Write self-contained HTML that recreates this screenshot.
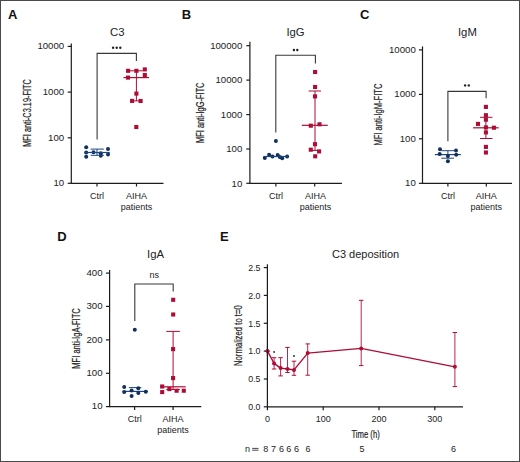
<!DOCTYPE html>
<html><head><meta charset="utf-8"><style>
html,body{margin:0;padding:0;background:#fff;}
body{width:520px;height:462px;overflow:hidden;}
svg{display:block;font-family:"Liberation Sans", sans-serif;}
</style></head><body>
<svg width="520" height="462" viewBox="0 0 520 462">
<rect x="0" y="0" width="520" height="462" fill="#fff"/>
<text x="8" y="19.1" font-size="13" text-anchor="start" font-weight="bold" fill="#111">A</text>
<text x="117.2" y="36" font-size="11.3" text-anchor="middle" font-weight="normal" fill="#222">C3</text>
<text x="30.8" y="112.95" font-size="11" text-anchor="middle" font-weight="normal" fill="#222" textLength="67.7" lengthAdjust="spacingAndGlyphs" transform="rotate(-90 30.8 112.95)" stroke="#222" stroke-width="0.2">MFI anti-C3.19-FITC</text>
<line x1="71.3" y1="43.4" x2="71.3" y2="183.3" stroke="#1c1c1c" stroke-width="1.2"/>
<line x1="67.7" y1="46.4" x2="71.3" y2="46.4" stroke="#1c1c1c" stroke-width="1.2"/>
<text x="64.2" y="49.1" font-size="9" text-anchor="end" font-weight="normal" fill="#222" textLength="26.78" lengthAdjust="spacingAndGlyphs">10000</text>
<line x1="67.7" y1="92.1" x2="71.3" y2="92.1" stroke="#1c1c1c" stroke-width="1.2"/>
<text x="64.2" y="94.8" font-size="9" text-anchor="end" font-weight="normal" fill="#222" textLength="21.42" lengthAdjust="spacingAndGlyphs">1000</text>
<line x1="67.7" y1="137.8" x2="71.3" y2="137.8" stroke="#1c1c1c" stroke-width="1.2"/>
<text x="64.2" y="140.5" font-size="9" text-anchor="end" font-weight="normal" fill="#222" textLength="16.07" lengthAdjust="spacingAndGlyphs">100</text>
<line x1="67.7" y1="183.3" x2="71.3" y2="183.3" stroke="#1c1c1c" stroke-width="1.2"/>
<text x="64.2" y="186.0" font-size="9" text-anchor="end" font-weight="normal" fill="#222" textLength="10.71" lengthAdjust="spacingAndGlyphs">10</text>
<line x1="70.7" y1="183.3" x2="163.5" y2="183.3" stroke="#1c1c1c" stroke-width="1.2"/>
<line x1="97.0" y1="183.3" x2="97.0" y2="186.5" stroke="#1c1c1c" stroke-width="1.2"/>
<line x1="136.5" y1="183.3" x2="136.5" y2="186.5" stroke="#1c1c1c" stroke-width="1.2"/>
<text x="97.1" y="198.5" font-size="9" text-anchor="middle" font-weight="normal" fill="#222">Ctrl</text>
<text x="136.4" y="198.5" font-size="9" text-anchor="middle" font-weight="normal" fill="#222">AIHA</text>
<text x="136.4" y="209.5" font-size="9" text-anchor="middle" font-weight="normal" fill="#222">patients</text>
<path d="M97.1,139.4 V53.4 H136.4 V61.0" fill="none" stroke="#383838" stroke-width="1.1"/>
<circle cx="113.1" cy="47.8" r="1.2" fill="#222"/>
<circle cx="116.7" cy="47.8" r="1.2" fill="#222"/>
<circle cx="120.3" cy="47.8" r="1.2" fill="#222"/>
<circle cx="86.2" cy="147.3" r="2.0" fill="#102f5c"/>
<circle cx="86.2" cy="152.5" r="2.0" fill="#102f5c"/>
<circle cx="86.2" cy="156.7" r="2.0" fill="#102f5c"/>
<circle cx="93.5" cy="152.2" r="2.0" fill="#102f5c"/>
<circle cx="100.8" cy="155.7" r="2.0" fill="#102f5c"/>
<circle cx="100.8" cy="153.2" r="2.0" fill="#102f5c"/>
<circle cx="108" cy="149.1" r="2.0" fill="#102f5c"/>
<circle cx="108" cy="154.6" r="2.0" fill="#102f5c"/>
<line x1="84.5" y1="152.5" x2="109.8" y2="152.5" stroke="#1b4680" stroke-width="1.2"/>
<line x1="90.7" y1="149.1" x2="103.9" y2="149.1" stroke="#1b4680" stroke-width="1.0"/>
<line x1="90.7" y1="155.3" x2="103.9" y2="155.3" stroke="#1b4680" stroke-width="1.0"/>
<line x1="97" y1="149.1" x2="97" y2="155.3" stroke="#1b4680" stroke-width="1.0"/>
<line x1="136.4" y1="70.8" x2="136.4" y2="100.9" stroke="#ad0c35" stroke-width="1.0"/>
<line x1="130" y1="70.8" x2="142.8" y2="70.8" stroke="#ad0c35" stroke-width="1.0"/>
<line x1="132" y1="100.9" x2="140.6" y2="100.9" stroke="#ad0c35" stroke-width="1.0"/>
<line x1="123.5" y1="77.6" x2="149.1" y2="77.6" stroke="#ad0c35" stroke-width="1.2"/>
<rect x="126.05" y="68.75" width="4.1" height="4.1" fill="#ad0c35"/>
<rect x="134.35" y="68.75" width="4.1" height="4.1" fill="#ad0c35"/>
<rect x="142.75" y="67.35" width="4.1" height="4.1" fill="#ad0c35"/>
<rect x="125.95" y="75.55" width="4.1" height="4.1" fill="#ad0c35"/>
<rect x="142.75" y="72.95" width="4.1" height="4.1" fill="#ad0c35"/>
<rect x="134.35" y="91.55" width="4.1" height="4.1" fill="#ad0c35"/>
<rect x="130.05" y="98.85" width="4.1" height="4.1" fill="#ad0c35"/>
<rect x="138.55" y="98.95" width="4.1" height="4.1" fill="#ad0c35"/>
<rect x="134.25" y="124.95" width="4.1" height="4.1" fill="#ad0c35"/>
<text x="181.8" y="19.2" font-size="13" text-anchor="start" font-weight="bold" fill="#111">B</text>
<text x="295.5" y="35.7" font-size="11.3" text-anchor="middle" font-weight="normal" fill="#222">IgG</text>
<text x="204.0" y="112.75" font-size="11" text-anchor="middle" font-weight="normal" fill="#222" textLength="60.5" lengthAdjust="spacingAndGlyphs" transform="rotate(-90 204.0 112.75)" stroke="#222" stroke-width="0.2">MFI anti-IgG-FITC</text>
<line x1="249.9" y1="41.8" x2="249.9" y2="183.3" stroke="#1c1c1c" stroke-width="1.2"/>
<line x1="246.3" y1="45.7" x2="249.9" y2="45.7" stroke="#1c1c1c" stroke-width="1.2"/>
<text x="242.3" y="48.900000000000006" font-size="9" text-anchor="end" font-weight="normal" fill="#222" textLength="32.13" lengthAdjust="spacingAndGlyphs">100000</text>
<line x1="246.3" y1="80.1" x2="249.9" y2="80.1" stroke="#1c1c1c" stroke-width="1.2"/>
<text x="242.3" y="83.3" font-size="9" text-anchor="end" font-weight="normal" fill="#222" textLength="26.78" lengthAdjust="spacingAndGlyphs">10000</text>
<line x1="246.3" y1="114.6" x2="249.9" y2="114.6" stroke="#1c1c1c" stroke-width="1.2"/>
<text x="242.3" y="117.8" font-size="9" text-anchor="end" font-weight="normal" fill="#222" textLength="21.42" lengthAdjust="spacingAndGlyphs">1000</text>
<line x1="246.3" y1="149.0" x2="249.9" y2="149.0" stroke="#1c1c1c" stroke-width="1.2"/>
<text x="242.3" y="152.2" font-size="9" text-anchor="end" font-weight="normal" fill="#222" textLength="16.07" lengthAdjust="spacingAndGlyphs">100</text>
<line x1="246.3" y1="183.3" x2="249.9" y2="183.3" stroke="#1c1c1c" stroke-width="1.2"/>
<text x="242.3" y="186.5" font-size="9" text-anchor="end" font-weight="normal" fill="#222" textLength="10.71" lengthAdjust="spacingAndGlyphs">10</text>
<line x1="249.3" y1="183.3" x2="341.9" y2="183.3" stroke="#1c1c1c" stroke-width="1.2"/>
<line x1="275.9" y1="183.3" x2="275.9" y2="186.5" stroke="#1c1c1c" stroke-width="1.2"/>
<line x1="314.7" y1="183.3" x2="314.7" y2="186.5" stroke="#1c1c1c" stroke-width="1.2"/>
<text x="276.0" y="198.5" font-size="9" text-anchor="middle" font-weight="normal" fill="#222">Ctrl</text>
<text x="315.4" y="198.5" font-size="9" text-anchor="middle" font-weight="normal" fill="#222">AIHA</text>
<text x="315.4" y="209.5" font-size="9" text-anchor="middle" font-weight="normal" fill="#222">patients</text>
<path d="M275.8,132.4 V55.3 H315.4 V63.5" fill="none" stroke="#383838" stroke-width="1.1"/>
<circle cx="293.9" cy="50" r="1.2" fill="#222"/>
<circle cx="297.3" cy="50" r="1.2" fill="#222"/>
<circle cx="275.9" cy="140.9" r="2.0" fill="#102f5c"/>
<circle cx="264.8" cy="157.9" r="2.0" fill="#102f5c"/>
<circle cx="269.1" cy="154.8" r="2.0" fill="#102f5c"/>
<circle cx="272.5" cy="156.5" r="2.0" fill="#102f5c"/>
<circle cx="277.7" cy="155.1" r="2.0" fill="#102f5c"/>
<circle cx="282.2" cy="158.2" r="2.0" fill="#102f5c"/>
<circle cx="287.1" cy="156.5" r="2.0" fill="#102f5c"/>
<circle cx="279.8" cy="156.9" r="2.0" fill="#102f5c"/>
<line x1="263.5" y1="156.5" x2="288.5" y2="156.5" stroke="#1b4680" stroke-width="1.2"/>
<line x1="315" y1="91" x2="315" y2="150.4" stroke="#ad0c35" stroke-width="1.0"/>
<line x1="308.6" y1="91" x2="321" y2="91" stroke="#ad0c35" stroke-width="1.0"/>
<line x1="310.8" y1="150.4" x2="319.1" y2="150.4" stroke="#ad0c35" stroke-width="1.0"/>
<line x1="301.8" y1="125.3" x2="327.8" y2="125.3" stroke="#ad0c35" stroke-width="1.2"/>
<rect x="313.05" y="69.95" width="4.1" height="4.1" fill="#ad0c35"/>
<rect x="313.05" y="84.95" width="4.1" height="4.1" fill="#ad0c35"/>
<rect x="312.95" y="94.35" width="4.1" height="4.1" fill="#ad0c35"/>
<rect x="308.75" y="123.65" width="4.1" height="4.1" fill="#ad0c35"/>
<rect x="317.45" y="122.25" width="4.1" height="4.1" fill="#ad0c35"/>
<rect x="312.95" y="142.15" width="4.1" height="4.1" fill="#ad0c35"/>
<rect x="308.75" y="147.65" width="4.1" height="4.1" fill="#ad0c35"/>
<rect x="317.05" y="149.35" width="4.1" height="4.1" fill="#ad0c35"/>
<rect x="313.15" y="154.25" width="4.1" height="4.1" fill="#ad0c35"/>
<text x="360.1" y="19.3" font-size="13" text-anchor="start" font-weight="bold" fill="#111">C</text>
<text x="467.4" y="35.7" font-size="11.3" text-anchor="middle" font-weight="normal" fill="#222">IgM</text>
<text x="381.9" y="114.6" font-size="11" text-anchor="middle" font-weight="normal" fill="#222" textLength="62" lengthAdjust="spacingAndGlyphs" transform="rotate(-90 381.9 114.6)" stroke="#222" stroke-width="0.2">MFI anti-IgM-FITC</text>
<line x1="422.5" y1="46.4" x2="422.5" y2="183.3" stroke="#1c1c1c" stroke-width="1.2"/>
<line x1="418.9" y1="49.9" x2="422.5" y2="49.9" stroke="#1c1c1c" stroke-width="1.2"/>
<text x="415.8" y="52.6" font-size="9" text-anchor="end" font-weight="normal" fill="#222" textLength="26.78" lengthAdjust="spacingAndGlyphs">10000</text>
<line x1="418.9" y1="94.4" x2="422.5" y2="94.4" stroke="#1c1c1c" stroke-width="1.2"/>
<text x="415.8" y="97.10000000000001" font-size="9" text-anchor="end" font-weight="normal" fill="#222" textLength="21.42" lengthAdjust="spacingAndGlyphs">1000</text>
<line x1="418.9" y1="138.8" x2="422.5" y2="138.8" stroke="#1c1c1c" stroke-width="1.2"/>
<text x="415.8" y="141.5" font-size="9" text-anchor="end" font-weight="normal" fill="#222" textLength="16.07" lengthAdjust="spacingAndGlyphs">100</text>
<line x1="418.9" y1="183.3" x2="422.5" y2="183.3" stroke="#1c1c1c" stroke-width="1.2"/>
<text x="415.8" y="186.0" font-size="9" text-anchor="end" font-weight="normal" fill="#222" textLength="10.71" lengthAdjust="spacingAndGlyphs">10</text>
<line x1="421.9" y1="183.3" x2="512.0" y2="183.3" stroke="#1c1c1c" stroke-width="1.2"/>
<line x1="447.9" y1="183.3" x2="447.9" y2="186.5" stroke="#1c1c1c" stroke-width="1.2"/>
<line x1="486.3" y1="183.3" x2="486.3" y2="186.5" stroke="#1c1c1c" stroke-width="1.2"/>
<text x="448.0" y="198.5" font-size="9" text-anchor="middle" font-weight="normal" fill="#222">Ctrl</text>
<text x="486.2" y="198.5" font-size="9" text-anchor="middle" font-weight="normal" fill="#222">AIHA</text>
<text x="486.2" y="209.5" font-size="9" text-anchor="middle" font-weight="normal" fill="#222">patients</text>
<path d="M447.9,141.2 V91.4 H486.1 V98.3" fill="none" stroke="#383838" stroke-width="1.1"/>
<circle cx="465.1" cy="85.4" r="1.2" fill="#222"/>
<circle cx="468.8" cy="85.4" r="1.2" fill="#222"/>
<line x1="434.8" y1="154.6" x2="460.8" y2="154.6" stroke="#1b4680" stroke-width="1.2"/>
<line x1="441.4" y1="150.7" x2="454.2" y2="150.7" stroke="#1b4680" stroke-width="1.0"/>
<line x1="441.4" y1="158.2" x2="454.0" y2="158.2" stroke="#1b4680" stroke-width="1.0"/>
<line x1="447.9" y1="150.7" x2="447.9" y2="158.2" stroke="#1b4680" stroke-width="1.0"/>
<circle cx="440" cy="149.2" r="2.0" fill="#102f5c"/>
<circle cx="439.7" cy="154" r="2.0" fill="#102f5c"/>
<circle cx="456" cy="150.5" r="2.0" fill="#102f5c"/>
<circle cx="456.2" cy="154.7" r="2.0" fill="#102f5c"/>
<circle cx="447.9" cy="156.1" r="2.0" fill="#102f5c"/>
<circle cx="447.9" cy="161.3" r="2.0" fill="#102f5c"/>
<line x1="485.9" y1="117.3" x2="485.9" y2="138.5" stroke="#ad0c35" stroke-width="1.0"/>
<line x1="480" y1="117.3" x2="492.5" y2="117.3" stroke="#ad0c35" stroke-width="1.0"/>
<line x1="480" y1="138.5" x2="492.5" y2="138.5" stroke="#ad0c35" stroke-width="1.0"/>
<line x1="473.1" y1="127.8" x2="498.7" y2="127.8" stroke="#ad0c35" stroke-width="1.2"/>
<rect x="483.85" y="104.85" width="4.1" height="4.1" fill="#ad0c35"/>
<rect x="483.85" y="113.15" width="4.1" height="4.1" fill="#ad0c35"/>
<rect x="483.85" y="117.65" width="4.1" height="4.1" fill="#ad0c35"/>
<rect x="475.95" y="121.85" width="4.1" height="4.1" fill="#ad0c35"/>
<rect x="483.85" y="125.35" width="4.1" height="4.1" fill="#ad0c35"/>
<rect x="491.85" y="125.65" width="4.1" height="4.1" fill="#ad0c35"/>
<rect x="483.85" y="130.35" width="4.1" height="4.1" fill="#ad0c35"/>
<rect x="483.85" y="144.85" width="4.1" height="4.1" fill="#ad0c35"/>
<rect x="483.85" y="150.45" width="4.1" height="4.1" fill="#ad0c35"/>
<text x="57.2" y="241" font-size="13" text-anchor="start" font-weight="bold" fill="#111">D</text>
<text x="155.6" y="257.8" font-size="11.3" text-anchor="middle" font-weight="normal" fill="#222">IgA</text>
<text x="79.7" y="338.45" font-size="11" text-anchor="middle" font-weight="normal" fill="#222" textLength="60.5" lengthAdjust="spacingAndGlyphs" transform="rotate(-90 79.7 338.45)" stroke="#222" stroke-width="0.2">MFI anti-IgA-FITC</text>
<line x1="109.6" y1="270.1" x2="109.6" y2="406.7" stroke="#1c1c1c" stroke-width="1.2"/>
<line x1="106.0" y1="273.1" x2="109.6" y2="273.1" stroke="#1c1c1c" stroke-width="1.2"/>
<text x="102.6" y="275.8" font-size="9" text-anchor="end" font-weight="normal" fill="#222" textLength="16.07" lengthAdjust="spacingAndGlyphs">400</text>
<line x1="106.0" y1="306.4" x2="109.6" y2="306.4" stroke="#1c1c1c" stroke-width="1.2"/>
<text x="102.6" y="309.09999999999997" font-size="9" text-anchor="end" font-weight="normal" fill="#222" textLength="16.07" lengthAdjust="spacingAndGlyphs">300</text>
<line x1="106.0" y1="339.9" x2="109.6" y2="339.9" stroke="#1c1c1c" stroke-width="1.2"/>
<text x="102.6" y="342.59999999999997" font-size="9" text-anchor="end" font-weight="normal" fill="#222" textLength="16.07" lengthAdjust="spacingAndGlyphs">200</text>
<line x1="106.0" y1="373.3" x2="109.6" y2="373.3" stroke="#1c1c1c" stroke-width="1.2"/>
<text x="102.6" y="376.0" font-size="9" text-anchor="end" font-weight="normal" fill="#222" textLength="16.07" lengthAdjust="spacingAndGlyphs">100</text>
<line x1="106.0" y1="406.6" x2="109.6" y2="406.6" stroke="#1c1c1c" stroke-width="1.2"/>
<text x="102.6" y="409.3" font-size="9" text-anchor="end" font-weight="normal" fill="#222" textLength="10.71" lengthAdjust="spacingAndGlyphs">10</text>
<line x1="109.0" y1="406.7" x2="201.3" y2="406.7" stroke="#1c1c1c" stroke-width="1.2"/>
<line x1="134.6" y1="406.7" x2="134.6" y2="409.9" stroke="#1c1c1c" stroke-width="1.2"/>
<line x1="173.1" y1="406.7" x2="173.1" y2="409.9" stroke="#1c1c1c" stroke-width="1.2"/>
<text x="134.8" y="422.0" font-size="9" text-anchor="middle" font-weight="normal" fill="#222">Ctrl</text>
<text x="173.1" y="422.0" font-size="9" text-anchor="middle" font-weight="normal" fill="#222">AIHA</text>
<text x="173.1" y="433.0" font-size="9" text-anchor="middle" font-weight="normal" fill="#222">patients</text>
<path d="M134.8,321.1 V284 H173.2 V291.4" fill="none" stroke="#383838" stroke-width="1.1"/>
<text x="154.3" y="278.4" font-size="9" text-anchor="middle" font-weight="normal" fill="#222">ns</text>
<circle cx="134.8" cy="329.7" r="2.0" fill="#102f5c"/>
<line x1="122.6" y1="391.4" x2="147.9" y2="391.4" stroke="#1b4680" stroke-width="1.2"/>
<line x1="128.8" y1="387.6" x2="141.3" y2="387.6" stroke="#1b4680" stroke-width="1.0"/>
<circle cx="124.2" cy="386.9" r="2.0" fill="#102f5c"/>
<circle cx="124.2" cy="392.1" r="2.0" fill="#102f5c"/>
<circle cx="131.6" cy="390.4" r="2.0" fill="#102f5c"/>
<circle cx="131.6" cy="395.9" r="2.0" fill="#102f5c"/>
<circle cx="138.3" cy="388.3" r="2.0" fill="#102f5c"/>
<circle cx="138.3" cy="393.1" r="2.0" fill="#102f5c"/>
<circle cx="145.8" cy="391.7" r="2.0" fill="#102f5c"/>
<line x1="173.1" y1="331.4" x2="173.1" y2="389.5" stroke="#ad0c35" stroke-width="1.0"/>
<line x1="166.3" y1="331.4" x2="179.9" y2="331.4" stroke="#ad0c35" stroke-width="1.0"/>
<line x1="166.3" y1="389.5" x2="179.9" y2="389.5" stroke="#ad0c35" stroke-width="1.0"/>
<line x1="160.2" y1="386.8" x2="185.7" y2="386.8" stroke="#ad0c35" stroke-width="1.2"/>
<rect x="171.15" y="297.75" width="4.1" height="4.1" fill="#ad0c35"/>
<rect x="171.15" y="312.45" width="4.1" height="4.1" fill="#ad0c35"/>
<rect x="171.05" y="347.05" width="4.1" height="4.1" fill="#ad0c35"/>
<rect x="171.05" y="376.05" width="4.1" height="4.1" fill="#ad0c35"/>
<rect x="160.15" y="384.45" width="4.1" height="4.1" fill="#ad0c35"/>
<rect x="160.15" y="390.05" width="4.1" height="4.1" fill="#ad0c35"/>
<rect x="167.35" y="387.05" width="4.1" height="4.1" fill="#ad0c35"/>
<rect x="174.55" y="388.65" width="4.1" height="4.1" fill="#ad0c35"/>
<rect x="181.75" y="388.65" width="4.1" height="4.1" fill="#ad0c35"/>
<text x="220.1" y="241" font-size="13" text-anchor="start" font-weight="bold" fill="#111">E</text>
<text x="365.6" y="257.5" font-size="11" text-anchor="middle" font-weight="normal" fill="#222">C3 deposition</text>
<text x="241.6" y="335.6" font-size="11" text-anchor="middle" font-weight="normal" fill="#222" textLength="60.8" lengthAdjust="spacingAndGlyphs" transform="rotate(-90 241.6 335.6)" stroke="#222" stroke-width="0.2">Normalized to t=0</text>
<line x1="267.4" y1="264.3" x2="267.4" y2="406.8" stroke="#1c1c1c" stroke-width="1.2"/>
<line x1="263.79999999999995" y1="267.6" x2="267.4" y2="267.6" stroke="#1c1c1c" stroke-width="1.2"/>
<text x="260.5" y="270.8" font-size="9" text-anchor="end" font-weight="normal" fill="#222" textLength="12.26" lengthAdjust="spacingAndGlyphs">2.5</text>
<line x1="263.79999999999995" y1="295.4" x2="267.4" y2="295.4" stroke="#1c1c1c" stroke-width="1.2"/>
<text x="260.5" y="298.59999999999997" font-size="9" text-anchor="end" font-weight="normal" fill="#222" textLength="12.26" lengthAdjust="spacingAndGlyphs">2.0</text>
<line x1="263.79999999999995" y1="323.3" x2="267.4" y2="323.3" stroke="#1c1c1c" stroke-width="1.2"/>
<text x="260.5" y="326.5" font-size="9" text-anchor="end" font-weight="normal" fill="#222" textLength="12.26" lengthAdjust="spacingAndGlyphs">1.5</text>
<line x1="263.79999999999995" y1="351.1" x2="267.4" y2="351.1" stroke="#1c1c1c" stroke-width="1.2"/>
<text x="260.5" y="354.3" font-size="9" text-anchor="end" font-weight="normal" fill="#222" textLength="12.26" lengthAdjust="spacingAndGlyphs">1.0</text>
<line x1="263.79999999999995" y1="379.0" x2="267.4" y2="379.0" stroke="#1c1c1c" stroke-width="1.2"/>
<text x="260.5" y="382.2" font-size="9" text-anchor="end" font-weight="normal" fill="#222" textLength="12.26" lengthAdjust="spacingAndGlyphs">0.5</text>
<line x1="263.79999999999995" y1="406.8" x2="267.4" y2="406.8" stroke="#1c1c1c" stroke-width="1.2"/>
<text x="260.5" y="410.0" font-size="9" text-anchor="end" font-weight="normal" fill="#222" textLength="12.26" lengthAdjust="spacingAndGlyphs">0.0</text>
<line x1="266.79999999999995" y1="406.8" x2="463.0" y2="406.8" stroke="#1c1c1c" stroke-width="1.2"/>
<line x1="267.4" y1="406.8" x2="267.4" y2="410.3" stroke="#1c1c1c" stroke-width="1.2"/>
<line x1="323.2" y1="406.8" x2="323.2" y2="410.3" stroke="#1c1c1c" stroke-width="1.2"/>
<line x1="379.0" y1="406.8" x2="379.0" y2="410.3" stroke="#1c1c1c" stroke-width="1.2"/>
<line x1="434.8" y1="406.8" x2="434.8" y2="410.3" stroke="#1c1c1c" stroke-width="1.2"/>
<text x="267.4" y="422.1" font-size="9" text-anchor="middle" font-weight="normal" fill="#222">0</text>
<text x="323.2" y="422.1" font-size="9" text-anchor="middle" font-weight="normal" fill="#222">100</text>
<text x="379.0" y="422.1" font-size="9" text-anchor="middle" font-weight="normal" fill="#222">200</text>
<text x="434.8" y="422.1" font-size="9" text-anchor="middle" font-weight="normal" fill="#222">300</text>
<text x="365.6" y="437.5" font-size="11" text-anchor="middle" font-weight="normal" fill="#222" textLength="28.4" lengthAdjust="spacingAndGlyphs" stroke="#222" stroke-width="0.2">Time (h)</text>
<text x="245.0" y="451.8" font-size="9" text-anchor="start" font-weight="normal" fill="#222">n</text>
<line x1="252.2" y1="448.4" x2="258.5" y2="448.4" stroke="#333" stroke-width="0.9"/>
<line x1="252.2" y1="450.2" x2="258.5" y2="450.2" stroke="#333" stroke-width="0.9"/>
<text x="265.8" y="451.8" font-size="9" text-anchor="middle" font-weight="normal" fill="#222">8</text>
<text x="273.6" y="451.8" font-size="9" text-anchor="middle" font-weight="normal" fill="#222">7</text>
<text x="281.5" y="451.8" font-size="9" text-anchor="middle" font-weight="normal" fill="#222">6</text>
<text x="288.8" y="451.8" font-size="9" text-anchor="middle" font-weight="normal" fill="#222">6</text>
<text x="296.5" y="451.8" font-size="9" text-anchor="middle" font-weight="normal" fill="#222">6</text>
<text x="308.1" y="451.8" font-size="9" text-anchor="middle" font-weight="normal" fill="#222">6</text>
<text x="362.0" y="451.8" font-size="9" text-anchor="middle" font-weight="normal" fill="#222">5</text>
<text x="453.5" y="451.8" font-size="9" text-anchor="middle" font-weight="normal" fill="#222">6</text>
<line x1="264.9" y1="351.1" x2="270.1" y2="351.1" stroke="#ad0c35" stroke-width="1.0"/>
<line x1="274.1" y1="357.7" x2="274.1" y2="369" stroke="#b8294f" stroke-width="1.0"/>
<line x1="271.90000000000003" y1="357.7" x2="276.3" y2="357.7" stroke="#ad0c35" stroke-width="1.0"/>
<line x1="271.90000000000003" y1="369" x2="276.3" y2="369" stroke="#ad0c35" stroke-width="1.0"/>
<line x1="280.6" y1="357.7" x2="280.6" y2="375.9" stroke="#b8294f" stroke-width="1.0"/>
<line x1="278.40000000000003" y1="357.7" x2="282.8" y2="357.7" stroke="#ad0c35" stroke-width="1.0"/>
<line x1="278.40000000000003" y1="375.9" x2="282.8" y2="375.9" stroke="#ad0c35" stroke-width="1.0"/>
<line x1="287.5" y1="347.4" x2="287.5" y2="372.5" stroke="#b8294f" stroke-width="1.0"/>
<line x1="285.3" y1="347.4" x2="289.7" y2="347.4" stroke="#ad0c35" stroke-width="1.0"/>
<line x1="285.3" y1="372.5" x2="289.7" y2="372.5" stroke="#ad0c35" stroke-width="1.0"/>
<line x1="294" y1="361.2" x2="294" y2="375.3" stroke="#b8294f" stroke-width="1.0"/>
<line x1="291.8" y1="361.2" x2="296.2" y2="361.2" stroke="#ad0c35" stroke-width="1.0"/>
<line x1="291.8" y1="375.3" x2="296.2" y2="375.3" stroke="#ad0c35" stroke-width="1.0"/>
<line x1="307.7" y1="343.9" x2="307.7" y2="375.2" stroke="#b8294f" stroke-width="1.0"/>
<line x1="305.5" y1="343.9" x2="309.9" y2="343.9" stroke="#ad0c35" stroke-width="1.0"/>
<line x1="305.5" y1="375.2" x2="309.9" y2="375.2" stroke="#ad0c35" stroke-width="1.0"/>
<line x1="361.2" y1="300.3" x2="361.2" y2="365.6" stroke="#b8294f" stroke-width="1.0"/>
<line x1="359.0" y1="300.3" x2="363.4" y2="300.3" stroke="#ad0c35" stroke-width="1.0"/>
<line x1="359.0" y1="365.6" x2="363.4" y2="365.6" stroke="#ad0c35" stroke-width="1.0"/>
<line x1="454.9" y1="332.5" x2="454.9" y2="386.6" stroke="#b8294f" stroke-width="1.0"/>
<line x1="452.7" y1="332.5" x2="457.09999999999997" y2="332.5" stroke="#ad0c35" stroke-width="1.0"/>
<line x1="452.7" y1="386.6" x2="457.09999999999997" y2="386.6" stroke="#ad0c35" stroke-width="1.0"/>
<polyline points="267.5,351.1 274.1,363.4 280.6,368.1 287.5,369 294,369.9 307.7,353.1 361.2,348.4 454.9,366.8" fill="none" stroke="#ad0c35" stroke-width="1.35" stroke-linejoin="round"/>
<circle cx="267.5" cy="351.1" r="2.0" fill="#ad0c35"/>
<circle cx="274.1" cy="363.4" r="2.0" fill="#ad0c35"/>
<circle cx="280.6" cy="368.1" r="2.0" fill="#ad0c35"/>
<circle cx="287.5" cy="369" r="2.0" fill="#ad0c35"/>
<circle cx="294" cy="369.9" r="2.0" fill="#ad0c35"/>
<circle cx="307.7" cy="353.1" r="2.0" fill="#ad0c35"/>
<circle cx="361.2" cy="348.4" r="2.0" fill="#ad0c35"/>
<circle cx="454.9" cy="366.8" r="2.0" fill="#ad0c35"/>
<circle cx="274.1" cy="352.0" r="0.9" fill="#222"/>
<circle cx="294" cy="356" r="0.9" fill="#222"/>
<line x1="267.4" y1="346" x2="267.4" y2="356" stroke="#1c1c1c" stroke-width="1.0"/>
<rect x="0.5" y="0.5" width="519" height="461" fill="none" stroke="#4a4a4a" stroke-width="1"/>
</svg>
</body></html>
